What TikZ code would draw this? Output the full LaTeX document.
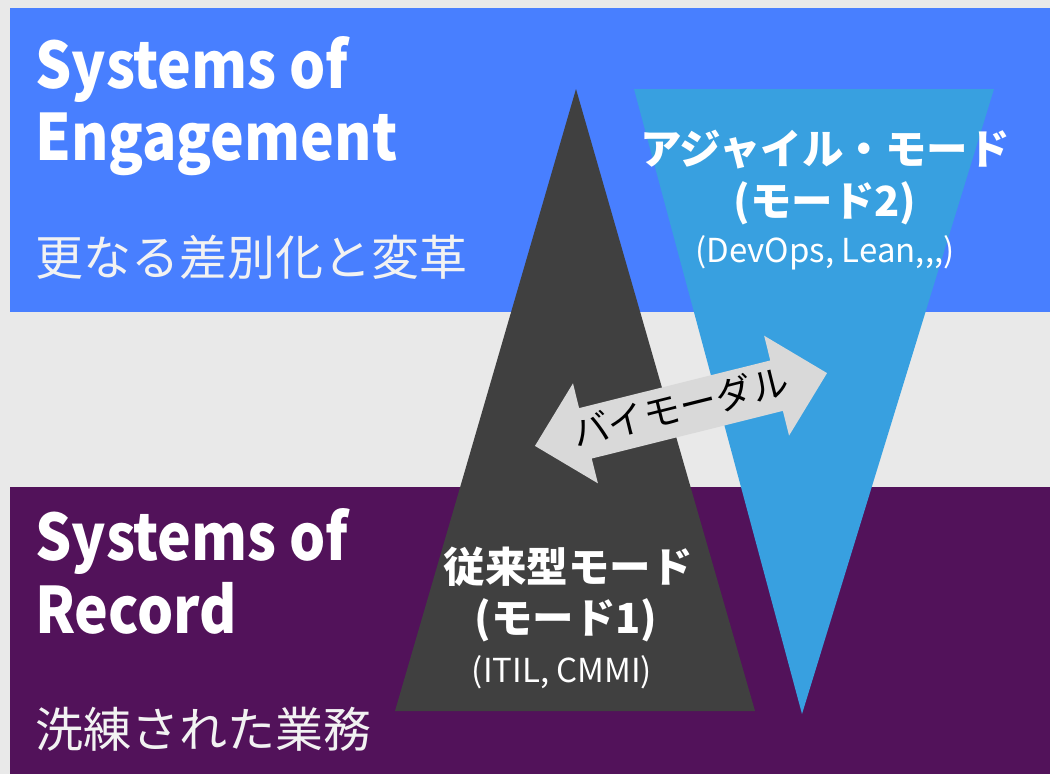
\documentclass[tikz,border=0pt]{standalone}
\usepackage{fontspec}
\newfontfamily\jp{Noto Sans CJK JP}
\newfontfamily\jphead[FakeStretch=0.89]{Noto Sans CJK JP}
\usepackage{tikz}
\definecolor{bgray}{HTML}{E9E9E9}
\definecolor{engblue}{HTML}{487FFF}
\definecolor{recpurple}{HTML}{52125A}
\definecolor{tridark}{HTML}{404040}
\definecolor{triblue}{HTML}{38A0E0}
\definecolor{arrgray}{HTML}{D9D9D9}
\definecolor{offwhite}{HTML}{F2F2F2}
\tikzset{
  title/.style={text=white,anchor=base west,inner sep=0pt,font=\jphead\bfseries\fontsize{64}{66}\selectfont},
  subtitle/.style={text=offwhite,anchor=west,inner sep=0pt,font=\jp\fontsize{48}{50}\selectfont},
  mode/.style={text=white,inner sep=0pt,font=\jp\bfseries\fontsize{41.5}{44}\selectfont},
  tool/.style={text=white,inner sep=0pt,font=\jp\fontsize{33}{36}\selectfont}
}

\begin{document}
\begin{tikzpicture}[x=1pt,y=-1pt]
  \useasboundingbox (0,0) rectangle (1050,774);
  \fill[bgray] (0,0) rectangle (1050,774);
  \fill[engblue] (10,8) rectangle (1050,312);
  \fill[recpurple] (10,487) rectangle (1050,774);
  \fill[tridark] (576,89) -- (755,711) -- (395,711) -- cycle;
  \fill[triblue] (634,89) -- (994,89) -- (802,714) -- cycle;
  \node[title] (soe1) at (35,88) {Systems of};
  \node[title] (soe2) at (35,160) {Engagement};
  \node[subtitle] (soesub) at (35,257) {更なる差別化と変革};
  \node[title] (sor1) at (35,560) {Systems of};
  \node[title] (sor2) at (35,633) {Record};
  \node[subtitle] (sorsub) at (35,729) {洗練された業務};
  \node[mode] (agile) at (825,150) {アジャイル・モード};
  \node[mode] (mode2) at (825,203) {(モード2)};
  \node[tool] (agiletools) at (825,253) {(DevOps, Lean,,,)};
  \node[mode] (trad) at (568,567) {従来型モード};
  \node[mode] (mode1) at (566,620) {(モード1)};
  \node[tool] (tradtools) at (562,672) {(ITIL, CMMI)};
  \begin{scope}[shift={(681,409.5)},rotate=14]
    \fill[arrgray] (150.5,0) -- (98.5,-51.5) -- (98.5,-26) -- (-98.5,-26) -- (-98.5,-51.5)
      -- (-150.5,0) -- (-98.5,51.5) -- (-98.5,26) -- (98.5,26) -- (98.5,51.5) -- cycle;
    \node[transform shape,inner sep=0pt,font=\jp\fontsize{37}{40}\selectfont] (bimodal) at (0,-3) {バイモーダル};
  \end{scope}
\end{tikzpicture}
\end{document}
